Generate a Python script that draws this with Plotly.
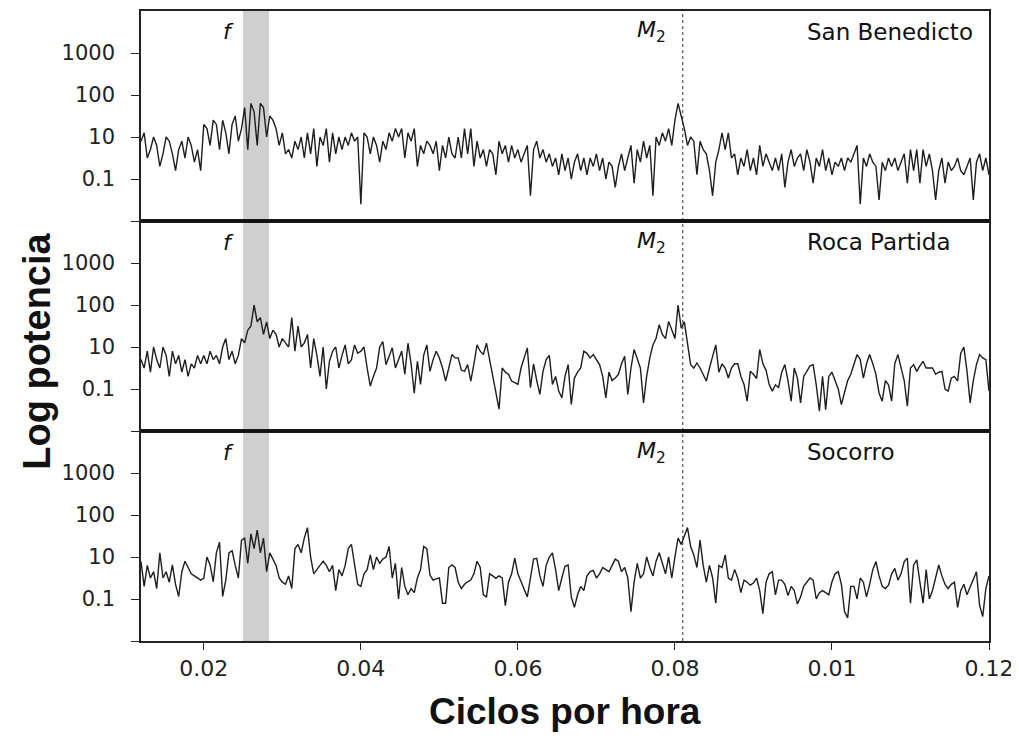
import numpy as np
import plotly.graph_objects as go
from plotly.subplots import make_subplots

# Frequency grid (cycles per hour)
freq_cph = np.round(np.linspace(0.012, 0.12, 271), 5)

# log10 power (axis frame: "10" -> 1, "100" -> 2, "1000" -> 3)
san_benedicto_log10 = [
    0.9, 1.1, 0.5, 0.7, 1.0, 0.8, 0.3, 0.6, 1.0, 0.9,
    0.6, 0.2, 0.7, 0.9, 0.5, 1.0, 0.8, 0.4, 0.7, 0.2,
    1.3, 1.2, 0.8, 1.4, 1.3, 0.7, 1.4, 1.1, 0.6, 1.3,
    1.5, 0.9, 1.2, 1.7, 0.7, 1.8, 1.6, 0.8, 1.8, 1.7,
    1.0, 1.5, 1.4, 1.2, 0.8, 1.1, 0.6, 0.7, 0.5, 0.9,
    0.7, 1.0, 0.5, 1.1, 0.6, 1.2, 0.3, 1.0, 0.8, 1.2,
    0.4, 1.1, 0.6, 1.0, 0.7, 1.0, 0.8, 1.1, 0.9, 1.0,
    -0.6, 1.1, 1.0, 0.6, 1.0, 0.8, 0.4, 0.9, 0.7, 1.1,
    0.9, 1.2, 1.0, 1.2, 0.5, 1.1, 0.9, 1.2, 0.3, 0.8,
    0.6, 0.9, 0.8, 0.6, 0.9, 0.2, 0.8, 0.5, 1.0, 0.6,
    0.5, 1.0, 0.5, 1.2, 0.6, 1.2, 0.3, 0.9, 0.5, 0.7,
    0.3, 0.7, 0.6, 0.1, 0.9, 0.6, 0.8, 0.4, 0.8, 0.5,
    0.7, 0.4, 0.6, 0.8, -0.4, 0.7, 0.9, 0.5, 0.7, 0.4,
    0.6, 0.3, 0.5, 0.1, 0.6, 0.2, 0.5, 0.0, 0.4, 0.6,
    0.2, 0.5, 0.1, 0.5, 0.3, 0.6, 0.2, 0.5, 0.0, 0.4,
    0.3, -0.2, 0.3, 0.6, 0.2, 0.5, 0.8, -0.1, 0.7, 0.4,
    0.9, 0.5, 0.8, -0.4, 1.0, 0.8, 1.1, 0.9, 1.2, 0.8,
    1.4, 1.8, 1.5, 1.2, 0.8, 1.0, 0.9, 0.1, 0.9, 0.7,
    0.6, 0.2, -0.4, 0.4, 0.7, 1.1, 0.7, 1.1, 0.5, 0.6,
    0.1, 0.5, 0.3, 0.7, 0.2, 0.5, 0.1, 0.8, 0.3, 0.6,
    0.4, 0.2, 0.5, 0.2, 0.6, -0.2, 0.4, 0.7, 0.3, 0.5,
    0.6, 0.2, 0.7, 0.4, -0.1, 0.5, 0.3, 0.7, 0.2, 0.5,
    0.1, 0.4, 0.3, 0.5, 0.2, 0.5, 0.4, 0.6, 0.8, -0.6,
    0.5, 0.3, 0.6, 0.4, 0.3, -0.5, 0.4, 0.2, 0.5, 0.3,
    0.5, 0.2, 0.4, 0.6, -0.1, 0.7, 0.2, 0.7, -0.1, 0.7,
    0.3, 0.6, 0.2, -0.5, 0.2, 0.5, -0.1, 0.4, 0.2, 0.3,
    0.5, 0.2, 0.1, 0.3, 0.5, -0.5, 0.4, 0.6, 0.2, 0.5,
    0.1,
]

roca_partida_log10 = [
    0.7, 0.5, 0.9, 0.4, 1.0, 0.7, 0.5, 1.0, 0.8, 0.3,
    0.9, 0.6, 0.8, 0.4, 0.7, 0.3, 0.6, 0.5, 0.8, 0.6,
    0.8, 0.6, 0.9, 0.7, 0.8, 0.6, 1.0, 1.2, 0.7, 0.9,
    0.6, 0.8, 1.2, 1.1, 1.4, 1.5, 2.0, 1.6, 1.7, 1.3,
    1.6, 1.2, 1.4, 1.3, 1.0, 1.2, 1.1, 1.0, 1.7, 0.9,
    1.5, 1.0, 1.1, 1.3, 0.5, 1.2, 0.8, 0.3, 1.0, 0.0,
    0.66, 0.9, 1.0, 0.5, 0.8, 1.05, 0.6, 0.7, 1.05, 0.85,
    0.9, 1.0, 0.5, 0.07, 0.3, 0.5, 1.0, 1.13, 0.58, 0.8,
    0.98, 0.5, 0.7, 0.9, 0.35, 1.09, 0.6, -0.1, 0.66, 0.11,
    0.8, 1.05, 0.42, 0.7, 0.9, 0.74, 0.5, 0.19, 0.5, 0.82,
    0.74, 0.74, 0.45, 0.42, 0.58, 0.19, 0.6, 1.05, 0.9, 0.82,
    1.09, 0.7, 0.35, -0.1, -0.48, 0.5, 0.4, 0.35, 0.19, 0.15,
    0.11, 0.5, 0.74, 0.98, 0.03, 0.6, 0.2, -0.13, 0.42, 0.7,
    0.8, 0.11, 0.3, -0.05, -0.21, 0.3, 0.58, -0.37, 0.26, 0.4,
    0.5, 0.9, 0.85, 0.74, 0.82, 0.7, 0.58, 0.3, -0.21, 0.4,
    0.2, 0.26, 0.35, 0.6, 0.78, -0.13, 0.5, 0.94, 0.7, 0.5,
    -0.33, 0.3, 0.74, 1.05, 1.21, 1.53, 1.3, 1.2, 1.61, 1.4,
    1.2, 2.0, 1.45, 1.6, 1.1, 0.58, 0.5, 0.62, 0.5, 0.35,
    0.19, 0.5, 0.8, 1.05, 0.4, 0.6, 0.5, 0.26, 0.5, 0.6,
    0.6, 0.3, 0.11, -0.29, 0.42, 0.35, 0.25, 0.94, 0.6, 0.45,
    0.11, -0.05, 0.1, 0.03, 0.4, 0.58, 0.2, -0.29, 0.5, 0.26,
    -0.33, 0.3, 0.42, 0.55, 0.58, 0.1, -0.53, 0.3, -0.49, 0.3,
    0.4, 0.19, 0.0, -0.37, -0.05, 0.2, 0.35, 0.6, 0.82, 0.7,
    0.26, 0.6, 0.82, 0.6, 0.35, -0.1, -0.29, 0.2, 0.1, -0.29,
    0.6, 0.82, 0.5, 0.2, -0.41, 0.5, 0.58, 0.42, 0.55, 0.66,
    0.5, 0.5, 0.5, 0.35, 0.4, 0.42, 0.0, -0.05, 0.26, 0.3,
    0.19, 0.85, 1.0, 0.42, -0.33, 0.2, 0.58, 0.82, 0.74, 0.7,
    -0.05,
]

socorro_log10 = [
    0.89, 0.3, 0.8, 0.5, 0.65, 0.25, 1.1, 0.5, 0.65, 0.4,
    0.81, 0.35, 0.06, 0.65, 0.9, 0.75, 0.6, 0.55, 0.5, 0.45,
    0.5, 1.0, 0.81, 0.41, 1.1, 1.35, 0.06, 0.45, 1.1, 1.15,
    0.8, 0.5, 1.4, 1.45, 0.85, 1.55, 1.2, 1.64, 1.1, 1.45,
    0.65, 1.1, 0.95, 0.8, 0.5, 0.4, 0.35, 0.55, 0.25, 1.2,
    1.3, 1.1, 1.45, 1.7, 1.0, 0.6, 0.7, 0.81, 0.9, 0.8,
    0.65, 0.8, 0.2, 0.7, 0.55, 0.8, 1.2, 1.3, 0.8, 0.35,
    0.3, 0.6, 0.7, 1.05, 0.7, 1.0, 0.85, 0.95, 1.0, 1.25,
    0.5, 0.85, 0.0, 0.75, 0.3, 0.1, 0.25, 0.15, 0.5, 0.7,
    1.25, 1.2, 0.57, 0.45, 0.48, 0.5, -0.1, -0.1, 0.75, 0.81,
    0.75, 0.4, 0.25, 0.35, 0.41, 0.45, 0.6, 0.9, 0.75, 0.1,
    0.05, 0.6, 0.55, 0.49, 0.55, 0.5, -0.16, 0.4, 0.6, 0.97,
    0.6, 0.4, 0.2, 0.05, 0.5, 0.95, 0.97, 0.55, 0.3, 0.8,
    1.0, 1.1, 0.7, 0.2, 0.5, 0.78, 0.81, 0.05, -0.2, 0.1,
    0.3, 0.2, 0.55, 0.65, 0.68, 0.5, 0.6, 0.75, 0.7, 0.65,
    0.8, 0.95, 0.9, 0.65, 0.75, 0.5, -0.3, 0.4, 0.85, 0.5,
    0.6, 1.0, 0.75, 0.55, 0.9, 1.1, 0.85, 0.6, 1.0, 0.5,
    1.0, 1.45, 1.3, 1.5, 1.7, 1.25, 1.05, 0.75, 1.4, 0.8,
    0.4, 0.8, 0.5, -0.1, 0.8, 0.75, 1.05, 0.5, 0.45, 0.7,
    0.5, 0.15, 0.45, 0.4, 0.33, 0.38, 0.5, 0.2, -0.35, 0.4,
    0.6, 0.65, 0.1, 0.45, 0.45, 0.35, 0.08, 0.3, 0.2, -0.12,
    0.05, 0.3, 0.41, 0.5, 0.45, 0.0, 0.15, 0.2, 0.15, 0.1,
    0.41, 0.6, 0.65, 0.35, -0.3, -0.45, 0.3, 0.3, 0.0, 0.5,
    0.4, 0.05, 0.35, 0.7, 0.89, 0.55, 0.3, 0.25, 0.33, 0.6,
    0.73, 0.45, 0.6, 0.89, 0.97, -0.1, 0.81, 0.93, 0.4, -0.1,
    0.7, 0.0, 0.2, 0.49, 0.81, 0.55, 0.35, 0.25, 0.35, 0.4,
    -0.2, 0.2, 0.35, 0.1, 0.3, 0.5, 0.65, -0.15, -0.42, 0.25,
    0.55,
]

stations = ["San Benedicto", "Roca Partida", "Socorro"]
series = [san_benedicto_log10, roca_partida_log10, socorro_log10]

x_tickvals = [0.02, 0.04, 0.06, 0.08, 0.10, 0.12]
x_ticktext = ["0.02", "0.04", "0.06", "0.08", "0.01", "0.12"]
y_tickvals = [0.1, 1, 10, 100, 1000]
y_ticktext = ["", "0.1", "10", "100", "1000"]

inertial_band = [0.025, 0.0283]   # f band
m2_freq = 0.081                   # M2 line

Y_TICK_FONT = dict(family="DejaVu Sans", size=21, color="#222")
X_TICK_FONT = dict(family="DejaVu Sans", size=22, color="#222")
LINE_C = "#1e1e1e"

fig = make_subplots(rows=3, cols=1, shared_xaxes=True, vertical_spacing=0)

for r, (name, vals) in enumerate(zip(stations, series), start=1):
    power = [10 ** v for v in vals]
    fig.add_trace(go.Scatter(x=freq_cph, y=power, mode="lines",
                             line=dict(color=LINE_C, width=1.4),
                             name=name, showlegend=False), row=r, col=1)
    ydom = "y domain" if r == 1 else f"y{r} domain"
    xref = "x" if r == 1 else f"x{r}"
    fig.add_annotation(x=0.0231, y=0.9, xref=xref, yref=ydom, text="<i>f</i>",
                       showarrow=False, font=dict(family="DejaVu Sans", size=22, color="#111"),
                       xanchor="center", yanchor="middle")
    fig.add_annotation(x=0.0791, y=0.9, xref=xref, yref=ydom, text="<i>M</i><sub>2</sub>",
                       showarrow=False, font=dict(family="DejaVu Sans", size=22, color="#111"),
                       xanchor="right", yanchor="middle")
    fig.add_annotation(x=0.0966, y=0.9, xref=xref, yref=ydom, text=name,
                       showarrow=False, font=dict(family="DejaVu Sans", size=23, color="#111"),
                       xanchor="left", yanchor="middle")

fig.update_xaxes(range=[0.012, 0.12], showgrid=False, zeroline=False,
                 showline=True, mirror=True, linecolor="#222", linewidth=1.5,
                 ticks="", showticklabels=False)
fig.update_xaxes(row=3, col=1, ticks="outside", ticklen=7, tickwidth=1.2, tickcolor="#222",
                 tickvals=x_tickvals, ticktext=x_ticktext, showticklabels=True,
                 tickfont=X_TICK_FONT, ticklabelstandoff=0)
fig.update_yaxes(type="log", range=[-1, 4], showgrid=False, zeroline=False,
                 showline=True, mirror=True, linecolor="#222", linewidth=1.5,
                 ticks="outside", ticklen=8, tickwidth=1.2, tickcolor="#222",
                 tickvals=y_tickvals, ticktext=y_ticktext, tickfont=Y_TICK_FONT,
                 ticklabelstandoff=12)

shapes = [
    dict(type="rect", xref="x", yref="paper", x0=inertial_band[0], x1=inertial_band[1],
         y0=0, y1=1, fillcolor="#cfcfcf", line=dict(width=0), layer="below"),
    dict(type="line", xref="x", yref="paper", x0=m2_freq, x1=m2_freq, y0=0, y1=1,
         line=dict(color="#333", width=1, dash="dot")),
    dict(type="line", xref="paper", yref="paper", x0=0, x1=1, y0=1/3, y1=1/3,
         line=dict(color="#111", width=3)),
    dict(type="line", xref="paper", yref="paper", x0=0, x1=1, y0=2/3, y1=2/3,
         line=dict(color="#111", width=3)),
]

fig.update_layout(
    width=1019, height=738,
    margin=dict(l=133, r=38, t=1, b=105),
    paper_bgcolor="white", plot_bgcolor="white",
    showlegend=False,
    shapes=shapes,
)

fig.add_annotation(x=-0.122, y=0.46, xref="paper", yref="paper", text="<b>Log potencia</b>",
                   textangle=-90, showarrow=False,
                   font=dict(family="Liberation Sans Narrow, Liberation Sans", size=38, color="#111"),
                   xanchor="center", yanchor="middle")
fig.add_annotation(x=0.5, y=-0.112, xref="paper", yref="paper", text="<b>Ciclos por hora</b>",
                   showarrow=False,
                   font=dict(family="Liberation Sans Narrow, Liberation Sans", size=37, color="#111"),
                   xanchor="center", yanchor="middle")

fig.write_html("out.html")
